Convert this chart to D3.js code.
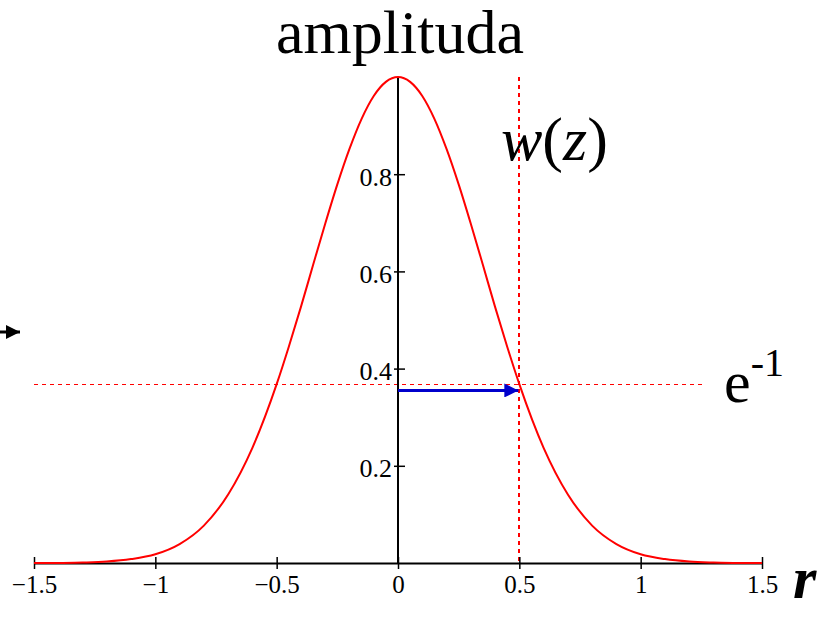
<html><head>
    <meta charset="utf-8">
    <title>amplituda</title>
    <script src="https://d3js.org/d3.v7.min.js"></script>
    <style>
        body { margin: 0; background: #fff; }
        text { font-family: "Liberation Serif", "Times New Roman", serif; }
    </style>
</head>
<body>
<div id="chart"></div>

<script>
    const svgWidth = 829;
    const svgHeight = 627;

    // values
    const rValues = [-1.5, -1.4, -1.3, -1.2, -1.1, -1.0, -0.9, -0.8, -0.7, -0.6, -0.5, -0.45, -0.4, -0.35, -0.3, -0.25, -0.2, -0.15, -0.1, -0.05,
                      0.0, 0.05, 0.1, 0.15, 0.2, 0.25, 0.3, 0.35, 0.4, 0.45, 0.5, 0.6, 0.7, 0.8, 0.9, 1.0, 1.1, 1.2, 1.3, 1.4, 1.5];
    const ampValues = [0.0, 0.0, 0.001, 0.003, 0.008, 0.018, 0.039, 0.077, 0.141, 0.237, 0.368, 0.445, 0.527, 0.613, 0.698, 0.779, 0.852, 0.914, 0.961, 0.990,
                       1.0, 0.990, 0.961, 0.914, 0.852, 0.779, 0.698, 0.613, 0.527, 0.445, 0.368, 0.237, 0.141, 0.077, 0.039, 0.018, 0.008, 0.003, 0.001, 0.0, 0.0];
    const xTicks = [-1.5, -1, -0.5, 0, 0.5, 1, 1.5];
    const yTicks = [0.2, 0.4, 0.6, 0.8];
    const eLevel = 0.368;     // e^-1 dashed line
    const wValue = 0.5;       // w(z) dashed line
    const arrowLevel = 0.355; // blue arrow height

    const data = rValues.map((r, i) => ({r: r, a: ampValues[i]}));

    const xScale = d3.scaleLinear().domain([-1.5, 1.5]).range([34, 762]);
    const yScale = d3.scaleLinear().domain([0, 1]).range([563, 77]);

    const svg = d3.select("#chart")
        .append("svg")
        .attr("width", svgWidth)
        .attr("height", svgHeight);

    let defs = svg.append("defs");
    defs.append("marker")
        .attr("id", "blueHead")
        .attr("viewBox", "0 0 10 10")
        .attr("refX", 10).attr("refY", 5)
        .attr("markerWidth", 18).attr("markerHeight", 14)
        .attr("markerUnits", "userSpaceOnUse")
        .attr("orient", "auto")
        .append("path").attr("d", "M0,0 L10,5 L0,10 Z").attr("fill", "#0000cc");
    defs.append("marker")
        .attr("id", "blackHead")
        .attr("viewBox", "0 0 10 10")
        .attr("refX", 10).attr("refY", 5)
        .attr("markerWidth", 16).attr("markerHeight", 14)
        .attr("markerUnits", "userSpaceOnUse")
        .attr("orient", "auto")
        .append("path").attr("d", "M0,0 L10,5 L0,10 Z").attr("fill", "#000");

    // dashed guide lines
    svg.append("line")
        .attr("x1", xScale(-1.5)).attr("x2", 703)
        .attr("y1", Math.round(yScale(eLevel)) + 0.5).attr("y2", Math.round(yScale(eLevel)) + 0.5)
        .attr("stroke", "#ff0000").attr("stroke-width", 1).attr("stroke-dasharray", "4,4")
        .attr("shape-rendering", "crispEdges");
    svg.append("line")
        .attr("x1", Math.round(xScale(wValue))).attr("x2", Math.round(xScale(wValue)))
        .attr("y1", yScale(1)).attr("y2", yScale(0))
        .attr("stroke", "#ff0000").attr("stroke-width", 2).attr("stroke-dasharray", "4,4")
        .attr("shape-rendering", "crispEdges");

    // x axis
    let xAxis = d3.axisBottom(xScale).tickValues(xTicks).tickSize(0).tickFormat(d => String(d).replace("-", "\u2212"));
    let gx = svg.append("g")
        .attr("transform", "translate(0," + yScale(0) + ")")
        .call(xAxis);
    gx.select(".domain").attr("stroke", "#000").attr("stroke-width", 2);
    gx.selectAll(".tick line").attr("y1", -6).attr("y2", 6).attr("stroke", "#000").attr("stroke-width", 1.5);
    gx.selectAll(".tick text")
        .attr("y", 30)
        .attr("dy", 0)
        .style("font-size", "25px")
        .style("font-family", "Liberation Serif")
        .attr("fill", "#000");

    // y axis
    let yAxis = d3.axisLeft(yScale).tickValues(yTicks).tickSize(0);
    let gy = svg.append("g")
        .attr("transform", "translate(" + xScale(0) + ",0)")
        .call(yAxis);
    gy.select(".domain").attr("d", "M0," + yScale(0) + "V" + yScale(1)).attr("stroke", "#000").attr("stroke-width", 2);
    gy.selectAll(".tick line").attr("x1", -4).attr("x2", 7).attr("stroke", "#000").attr("stroke-width", 1.5);
    gy.selectAll(".tick text")
        .attr("x", -6)
        .attr("dy", "0.42em")
        .style("font-size", "26px")
        .style("font-family", "Liberation Serif")
        .attr("fill", "#000");

    // the curve
    svg.append("path")
        .datum(data)
        .attr("fill", "none")
        .attr("stroke", "red")
        .attr("stroke-width", 2)
        .attr("d", d3.line()
            .x(d => xScale(d.r))
            .y(d => yScale(d.a))
            .curve(d3.curveMonotoneX));

    // blue arrow from axis to w(z)
    svg.append("line")
        .attr("x1", xScale(0)).attr("x2", xScale(wValue) - 1)
        .attr("y1", yScale(arrowLevel)).attr("y2", yScale(arrowLevel))
        .attr("stroke", "#0000cc").attr("stroke-width", 3)
        .attr("marker-end", "url(#blueHead)");

    // little black arrow at the left edge
    svg.append("line")
        .attr("x1", 0).attr("x2", 20)
        .attr("y1", 332).attr("y2", 332)
        .attr("stroke", "#000").attr("stroke-width", 3)
        .attr("marker-end", "url(#blackHead)");

    // labels
    svg.append("text")
        .attr("x", 400).attr("y", 53)
        .style("text-anchor", "middle")
        .style("font-size", "62px")
        .text("amplituda");

    svg.append("text")
        .attr("x", 501).attr("y", 160)
        .style("font-size", "62px")
        .html('<tspan font-style="italic">w</tspan>(<tspan font-style="italic">z</tspan>)');

    let eText = svg.append("text")
        .attr("x", 724).attr("y", 402)
        .style("font-size", "60px");
    eText.append("tspan").text("e");
    eText.append("tspan").attr("dy", -26).style("font-size", "40px").text("-1");

    svg.append("text")
        .attr("x", 793).attr("y", 598)
        .style("font-size", "60px")
        .style("font-style", "italic")
        .style("font-weight", "bold")
        .text("r");

    svg.append("text")
        .attr("x", 399).attr("y", 636)
        .style("font-size", "18px")
        .style("font-weight", "bold")
        .text("r:");
</script>
</body></html>
